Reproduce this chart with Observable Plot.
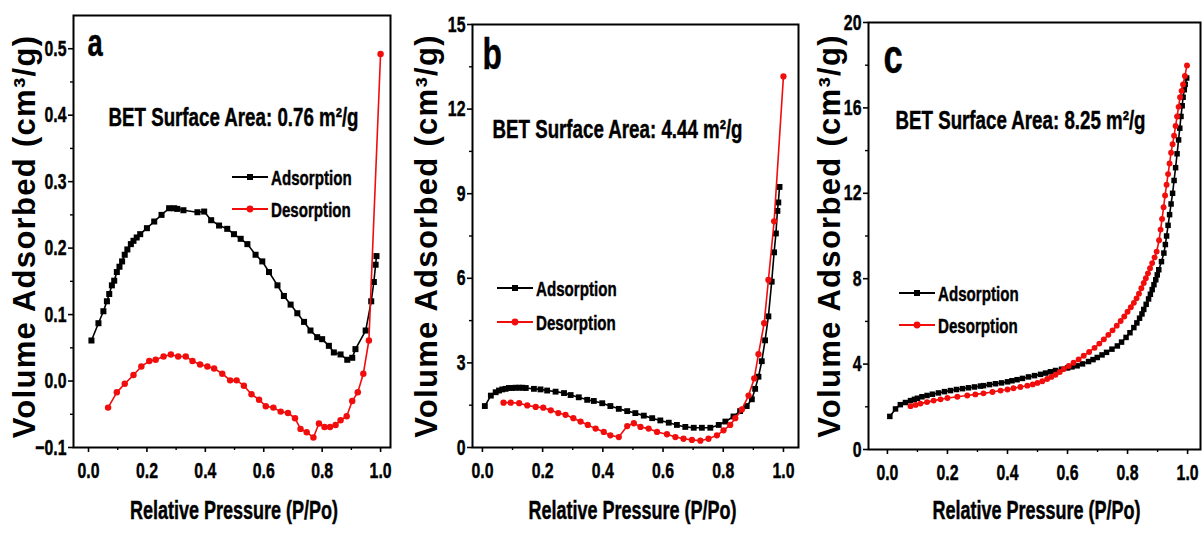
<!DOCTYPE html>
<html>
<head>
<meta charset="utf-8">
<script src="https://cdn.jsdelivr.net/npm/d3@7"></script>
<script src="https://cdn.jsdelivr.net/npm/@observablehq/plot@0.6"></script>
<style>
  html, body { margin: 0; padding: 0; background: #fff; }
  #wrap { position: relative; width: 1203px; height: 537px; overflow: hidden; background: #fff; }
  .pane { position: absolute; top: 0; }
  .pane svg text { font-weight: bold; }
</style>
</head>
<body>
<div id="wrap">
  <div class="pane" id="pa" style="left:0px"></div>
  <div class="pane" id="pb" style="left:400px"></div>
  <div class="pane" id="pc" style="left:810px"></div>
</div>
<script>
// ---------------- DATA ----------------
const seriesNames = ["Adsorption", "Desorption"];
const xLabel = "Relative Pressure (P/Po)";
const yLabel = "Volume Adsorbed (cm³/g)";
const panelLetters = ["a", "b", "c"];
const betLabels = ["BET Surface Area: 0.76 m²/g", "BET Surface Area: 4.44 m²/g", "BET Surface Area: 8.25 m²/g"];
const xTicks = [0, 0.2, 0.4, 0.6, 0.8, 1.0];
const xMinorTicks = [0.1, 0.3, 0.5, 0.7, 0.9];
const yTicksA = [-0.1, 0, 0.1, 0.2, 0.3, 0.4, 0.5];
const yMinorA = [-0.05, 0.05, 0.15, 0.25, 0.35, 0.45];
const yTicksB = [0, 3, 6, 9, 12, 15];
const yMinorB = [1.5, 4.5, 7.5, 10.5, 13.5];
const yTicksC = [0, 4, 8, 12, 16, 20];
const yMinorC = [2, 6, 10, 14, 18];

// Panel a
const adsA = [[0.01,0.061],[0.034,0.087],[0.051,0.105],[0.063,0.12],[0.071,0.131],[0.08,0.144],[0.088,0.151],[0.097,0.164],[0.106,0.172],[0.115,0.18],[0.124,0.19],[0.133,0.198],[0.145,0.206],[0.154,0.211],[0.165,0.216],[0.177,0.221],[0.2,0.23],[0.225,0.24],[0.25,0.25],[0.276,0.26],[0.293,0.26],[0.304,0.259],[0.325,0.257],[0.373,0.254],[0.396,0.255],[0.42,0.242],[0.447,0.234],[0.475,0.229],[0.498,0.221],[0.521,0.214],[0.544,0.206],[0.572,0.19],[0.595,0.18],[0.618,0.164],[0.647,0.144],[0.669,0.128],[0.692,0.115],[0.715,0.102],[0.738,0.089],[0.76,0.076],[0.783,0.066],[0.8,0.063],[0.823,0.053],[0.84,0.043],[0.863,0.04],[0.886,0.032],[0.903,0.035],[0.914,0.048],[0.949,0.076],[0.968,0.12],[0.977,0.149],[0.983,0.175],[0.986,0.188]];
const desA = [[0.067,-0.04],[0.097,-0.017],[0.124,-0.004],[0.154,0.009],[0.181,0.022],[0.208,0.03],[0.23,0.032],[0.257,0.037],[0.282,0.04],[0.307,0.037],[0.333,0.037],[0.356,0.03],[0.382,0.025],[0.407,0.022],[0.43,0.019],[0.458,0.011],[0.485,0.001],[0.507,0.001],[0.532,-0.007],[0.558,-0.02],[0.584,-0.028],[0.607,-0.038],[0.633,-0.04],[0.658,-0.046],[0.683,-0.048],[0.707,-0.056],[0.726,-0.072],[0.747,-0.077],[0.77,-0.085],[0.789,-0.064],[0.808,-0.069],[0.827,-0.069],[0.846,-0.066],[0.863,-0.059],[0.884,-0.053],[0.903,-0.03],[0.922,-0.017],[0.941,0.011],[0.96,0.061],[1.0,0.492]];

// Panel b
const adsB = [[0.008,1.47],[0.028,1.84],[0.044,1.96],[0.055,2.02],[0.066,2.06],[0.077,2.08],[0.088,2.11],[0.099,2.11],[0.11,2.12],[0.122,2.12],[0.133,2.12],[0.144,2.11],[0.171,2.08],[0.193,2.06],[0.215,2.02],[0.243,1.98],[0.271,1.93],[0.293,1.86],[0.32,1.78],[0.348,1.69],[0.37,1.65],[0.398,1.57],[0.425,1.47],[0.453,1.37],[0.481,1.29],[0.508,1.22],[0.536,1.13],[0.564,1.04],[0.591,0.96],[0.619,0.88],[0.646,0.8],[0.674,0.73],[0.702,0.7],[0.729,0.7],[0.757,0.7],[0.785,0.8],[0.807,0.92],[0.834,1.1],[0.856,1.29],[0.878,1.47],[0.895,1.71],[0.906,2.08],[0.917,2.51],[0.928,3.06],[0.939,3.8],[0.95,4.65],[0.961,5.88],[0.969,6.92],[0.975,7.59],[0.98,8.39],[0.983,8.69],[0.987,9.24]];
const desB = [[0.07,1.59],[0.094,1.59],[0.122,1.57],[0.149,1.49],[0.177,1.44],[0.202,1.41],[0.227,1.32],[0.252,1.22],[0.276,1.16],[0.302,1.04],[0.326,0.92],[0.35,0.8],[0.376,0.67],[0.403,0.55],[0.425,0.43],[0.453,0.37],[0.481,0.76],[0.503,0.86],[0.525,0.73],[0.552,0.67],[0.58,0.55],[0.613,0.47],[0.641,0.37],[0.668,0.31],[0.696,0.27],[0.724,0.24],[0.751,0.31],[0.779,0.43],[0.801,0.61],[0.823,0.8],[0.84,1.04],[0.862,1.35],[0.884,1.84],[0.903,2.45],[0.917,3.31],[0.936,4.41],[0.95,5.94],[0.969,8.02],[1.0,13.16]];

// Panel c
const adsC = [[0.008,1.55],[0.027,1.9],[0.043,2.1],[0.06,2.2],[0.077,2.29],[0.09,2.35],[0.1,2.4],[0.115,2.47],[0.132,2.53],[0.15,2.59],[0.17,2.65],[0.19,2.71],[0.21,2.76],[0.23,2.81],[0.25,2.85],[0.27,2.89],[0.29,2.93],[0.31,2.97],[0.32,2.99],[0.34,3.04],[0.36,3.08],[0.38,3.12],[0.4,3.17],[0.415,3.22],[0.432,3.27],[0.45,3.33],[0.47,3.4],[0.49,3.46],[0.51,3.52],[0.527,3.58],[0.543,3.64],[0.56,3.7],[0.58,3.76],[0.6,3.82],[0.615,3.87],[0.632,3.92],[0.65,4.01],[0.67,4.12],[0.685,4.21],[0.699,4.31],[0.715,4.43],[0.73,4.55],[0.748,4.7],[0.766,4.85],[0.78,5.03],[0.795,5.25],[0.808,5.47],[0.821,5.71],[0.831,5.93],[0.84,6.15],[0.848,6.35],[0.854,6.56],[0.862,6.8],[0.87,7.05],[0.876,7.27],[0.882,7.49],[0.888,7.72],[0.894,7.95],[0.899,8.18],[0.904,8.42],[0.913,8.8],[0.921,9.2],[0.926,9.6],[0.93,10.0],[0.935,10.5],[0.94,11.0],[0.945,11.5],[0.95,12.0],[0.955,12.6],[0.96,13.2],[0.965,13.85],[0.97,14.5],[0.974,15.05],[0.978,15.6],[0.982,16.1],[0.985,16.5],[0.989,16.85],[0.992,17.1],[0.997,17.4]];
const desC = [[0.077,2.03],[0.094,2.09],[0.11,2.15],[0.132,2.22],[0.154,2.29],[0.177,2.35],[0.2,2.41],[0.233,2.47],[0.266,2.53],[0.293,2.58],[0.32,2.63],[0.35,2.69],[0.377,2.76],[0.4,2.81],[0.42,2.87],[0.443,2.93],[0.466,2.99],[0.484,3.05],[0.5,3.12],[0.516,3.2],[0.532,3.3],[0.546,3.4],[0.56,3.5],[0.574,3.63],[0.588,3.77],[0.604,3.91],[0.62,4.06],[0.637,4.22],[0.654,4.39],[0.672,4.57],[0.69,4.76],[0.706,4.96],[0.721,5.16],[0.736,5.37],[0.75,5.58],[0.764,5.8],[0.777,6.02],[0.789,6.23],[0.8,6.45],[0.811,6.66],[0.821,6.87],[0.83,7.08],[0.838,7.3],[0.846,7.55],[0.854,7.8],[0.861,8.02],[0.868,8.25],[0.875,8.49],[0.882,8.73],[0.89,9.0],[0.897,9.27],[0.905,9.8],[0.91,10.3],[0.915,10.8],[0.92,11.35],[0.925,11.9],[0.93,12.4],[0.935,12.9],[0.94,13.4],[0.945,13.9],[0.95,14.3],[0.955,14.7],[0.96,15.15],[0.965,15.6],[0.97,16.05],[0.975,16.5],[0.98,16.8],[0.985,17.1],[0.991,17.5],[0.998,17.99]];

// ---------------- STYLE / LAYOUT ----------------
const NARROW = '"Liberation Sans",Arial,"DejaVu Sans",sans-serif';
const WIDE = '"Liberation Sans",Arial,"DejaVu Sans",sans-serif';
const SQUEEZE = 0.72; // horizontal compression to mimic a narrow bold typeface
const RED = "#f20d0d";

function legendMark(lx, ly, gap) {
  return () => {
    const g = d3.create("svg:g");
    seriesNames.forEach((name, i) => {
      const y = ly + i * gap;
      const color = i === 0 ? "black" : RED;
      g.append("line").attr("x1", lx).attr("x2", lx + 36).attr("y1", y).attr("y2", y)
        .attr("stroke", color).attr("stroke-width", 2.2);
      if (i === 0) {
        g.append("rect").attr("x", lx + 15).attr("y", y - 3).attr("width", 6).attr("height", 6).attr("fill", color);
      } else {
        g.append("circle").attr("cx", lx + 18).attr("cy", y).attr("r", 3.4).attr("fill", color);
      }
      g.append("text").attr("x", lx + 39).attr("y", y).attr("dy", "0.36em")
        .attr("text-anchor", "start")
        .attr("font-family", NARROW).attr("font-weight", "bold").attr("font-size", 21)
        .attr("fill", "black").text(name);
    });
    return g.node();
  };
}

function panel(cfg) {
  const {ads, des, width, mL, mR, mT, mB, xDomain, yDomain, yTicks, yMinor, yFmt,
         letterIdx, letterDx, letterDy, letterSize, betDx, betDy, legX, legY, legGap,
         yTitleDx, yTitleDy, xTitleDx, xTitleDy, symR} = cfg;
  return Plot.plot({
    width, height: 537,
    marginLeft: mL, marginRight: mR, marginTop: mT, marginBottom: mB,
    x: {domain: xDomain, label: null},
    y: {domain: yDomain, label: null},
    style: {background: "#fff", color: "black", overflow: "visible", fontFamily: NARROW},
    marks: [
      Plot.axisX(xTicks, {tickSize: 5, tickPadding: 10, tickFormat: d3.format(".1f"), fontSize: 22, fontFamily: NARROW, label: null, strokeWidth: 1.6}),
      Plot.axisX(xMinorTicks, {tickSize: 3, tickFormat: () => "", label: null, strokeWidth: 1.4}),
      Plot.axisY(yTicks, {tickSize: 5, tickPadding: 2, tickFormat: yFmt, fontSize: 22, fontFamily: NARROW, label: null, strokeWidth: 1.6}),
      Plot.axisY(yMinor, {tickSize: 3, tickFormat: () => "", label: null, strokeWidth: 1.4}),
      Plot.line(ads, {x: d => d[0], y: d => d[1], stroke: "black", strokeWidth: 1.6}),
      Plot.dot(ads, {x: d => d[0], y: d => d[1], symbol: "square", fill: "black", r: symR}),
      Plot.line(des, {x: d => d[0], y: d => d[1], stroke: RED, strokeWidth: 1.6}),
      Plot.dot(des, {x: d => d[0], y: d => d[1], symbol: "circle", fill: RED, r: symR * 0.95}),
      Plot.frame({stroke: "black", strokeWidth: 2}),
      Plot.text([panelLetters[letterIdx]], {text: d => d, frameAnchor: "top-left", dx: letterDx, dy: letterDy,
        textAnchor: "start", lineAnchor: "bottom", fontSize: letterSize, fontFamily: NARROW, fontWeight: "bold", fill: "black"}),
      Plot.text([betLabels[letterIdx]], {text: d => d, frameAnchor: "top-left", dx: betDx, dy: betDy,
        textAnchor: "start", lineAnchor: "bottom", fontSize: 26, fontFamily: NARROW, fontWeight: "bold", fill: "black"}),
      Plot.text([yLabel], {text: d => d, frameAnchor: "left", dx: yTitleDx, dy: yTitleDy, rotate: -90,
        textAnchor: "middle", lineAnchor: "middle", fontSize: 31, fontFamily: WIDE, fontWeight: "bold", fill: "black"}),
      Plot.text([xLabel], {text: d => d, frameAnchor: "bottom", dx: xTitleDx, dy: xTitleDy,
        textAnchor: "middle", lineAnchor: "bottom", fontSize: 25, fontFamily: NARROW, fontWeight: "bold", fill: "black"}),
      legendMark(legX, legY, legGap)
    ]
  });
}

const fmt1 = d3.format(".1f");
const fmt0 = d3.format("d");

const charts = [
  ["pa", {
    ads: adsA, des: desA, width: 400, mL: 73, mR: 10, mT: 15, mB: 90,
    xDomain: [-0.0514, 1.034], yDomain: [-0.1, 0.55], yTicks: yTicksA, yMinor: yMinorA, yFmt: fmt1,
    letterIdx: 0, letterDx: 14, letterDy: 40, letterSize: 38, betDx: 35, betDy: 110,
    legX: 232, legY: 177, legGap: 32, yTitleDx: -48, yTitleDy: 5, xTitleDx: 2, xTitleDy: 71, symR: 3.4
  }],
  ["pb", {
    ads: adsB, des: desB, width: 410, mL: 72, mR: 12, mT: 24, mB: 90,
    xDomain: [-0.033, 1.05], yDomain: [0, 15], yTicks: yTicksB, yMinor: yMinorB, yFmt: fmt0,
    letterIdx: 1, letterDx: 10, letterDy: 44, letterSize: 44, betDx: 20, betDy: 113,
    legX: 97, legY: 288, legGap: 34, yTitleDx: -45, yTitleDy: 0, xTitleDx: -3, xTitleDy: 71, symR: 3.3
  }],
  ["pc", {
    ads: adsC, des: desC, width: 393, mL: 58, mR: 3, mT: 22, mB: 88,
    xDomain: [-0.063, 1.043], yDomain: [0, 20], yTicks: yTicksC, yMinor: yMinorC, yFmt: fmt0,
    letterIdx: 2, letterDx: 15, letterDy: 50, letterSize: 48, betDx: 27, betDy: 106,
    legX: 89, legY: 293, legGap: 32, yTitleDx: -38, yTitleDy: 0, xTitleDx: 2, xTitleDy: 69, symR: 3.1
  }]
];

for (const [id, cfg] of charts) {
  const svg = panel(cfg);
  document.getElementById(id).appendChild(svg);
  // squeeze non-rotated texts horizontally to mimic a narrow bold typeface
  svg.querySelectorAll("text").forEach(t => {
    const tr = t.getAttribute("transform") || "";
    if (tr.includes("rotate")) {
      t.setAttribute("letter-spacing", "1.3");
      return;
    }
    if (!t.textContent) return;
    const len = t.getComputedTextLength();
    if (len > 0) {
      t.setAttribute("textLength", (len * SQUEEZE).toFixed(2));
      t.setAttribute("lengthAdjust", "spacingAndGlyphs");
      t.setAttribute("stroke", "black");
      t.setAttribute("stroke-width", "0.45");
    }
  });
}
</script>
</body>
</html>
